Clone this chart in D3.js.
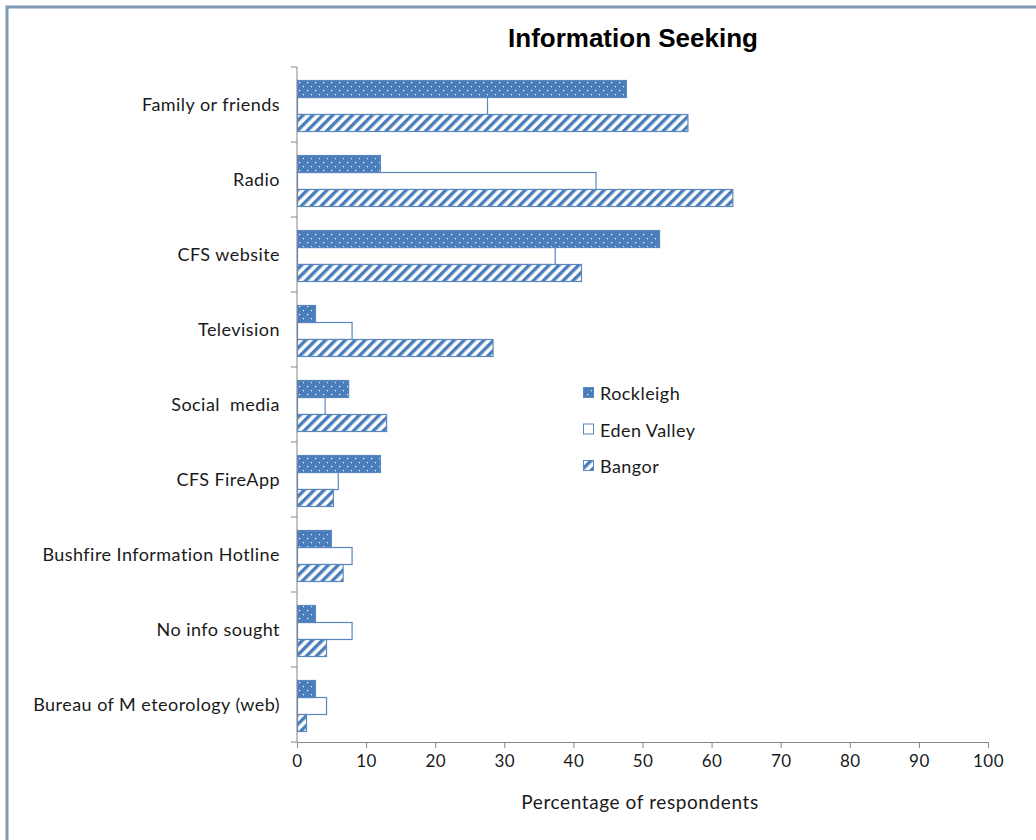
<!DOCTYPE html>
<html>
<head>
<meta charset="utf-8">
<script src="https://cdn.jsdelivr.net/npm/d3@7"></script>
<style>
  html, body { margin: 0; padding: 0; background: #fff; }
  svg { display: block; }
  .lbl { font-family: Lato, "Open Sans", sans-serif; fill: #1a1a1a; letter-spacing: 0.45px; white-space: pre; }
</style>
</head>
<body>
<svg id="chart" width="1036" height="840"></svg>
<script>
// Information sources used, by community (% of respondents)
const categories = [
  "Family or friends", "Radio", "CFS website", "Television", "Social  media",
  "CFS FireApp", "Bushfire Information Hotline", "No info sought", "Bureau of M eteorology (web)"
];
const seriesNames = ["Rockleigh", "Eden Valley", "Bangor"];
const rockleigh  = [47.6, 12.0, 52.4, 2.6, 7.4, 12.0, 4.9, 2.6, 2.6];
const edenValley = [27.5, 43.2, 37.3, 7.9, 4.0, 5.9, 7.9, 7.9, 4.2];
const bangor     = [56.5, 63.0, 41.1, 28.3, 12.9, 5.2, 6.6, 4.2, 1.3];
const xTicks = [0, 10, 20, 30, 40, 50, 60, 70, 80, 90, 100];

const values = [rockleigh, edenValley, bangor];
const blue = "#4a7ebb";
const edge = "#5b87bf";

const svg = d3.select("#chart");

// outer frame (top and left edges)
svg.append("path")
  .attr("d", "M7,840 V7 H1036")
  .attr("fill", "none").attr("stroke", "#7f9bb3").attr("stroke-width", 3);

// fill patterns
const defs = svg.append("defs");
const dots = defs.append("pattern").attr("id", "dots")
  .attr("patternUnits", "userSpaceOnUse").attr("width", 8).attr("height", 8);
dots.append("rect").attr("width", 8).attr("height", 8).attr("fill", blue);
dots.append("rect").attr("x", 3).attr("y", 2).attr("width", 1.2).attr("height", 1.2).attr("fill", "#fff");
dots.append("rect").attr("x", 7).attr("y", 6).attr("width", 1.2).attr("height", 1.2).attr("fill", "#fff");

const hatch = defs.append("pattern").attr("id", "hatch")
  .attr("patternUnits", "userSpaceOnUse").attr("width", 7).attr("height", 7)
  .attr("patternTransform", "rotate(45)");
hatch.append("rect").attr("width", 7).attr("height", 7).attr("fill", "#fff");
hatch.append("rect").attr("x", 0).attr("width", 3.4).attr("height", 7).attr("fill", blue);

const fills = ["url(#dots)", "#fff", "url(#hatch)"];

// scales
const x = d3.scaleLinear().domain([0, 100]).range([297, 988]);
const y = d3.scaleBand().domain(categories).range([67, 742]);
const ySub = d3.scaleBand().domain(seriesNames).range([13, 64]);

// bars, drawn middle series first so its outline sits beneath neighbours
const order = [1, 0, 2];
order.forEach(si => {
  svg.append("g").selectAll("rect")
    .data(categories.map((c, i) => ({ c, v: values[si][i] })))
    .join("rect")
    .attr("x", x(0) + 0.5)
    .attr("y", d => y(d.c) + ySub(seriesNames[si]) + 0.5)
    .attr("width", d => x(d.v) - x(0))
    .attr("height", ySub.bandwidth())
    .attr("fill", fills[si])
    .attr("stroke", edge)
    .attr("stroke-width", 1.2);
});

// y axis
const yAxis = svg.append("g").attr("transform", `translate(${x(0)},0)`);
yAxis.append("line").attr("x1", 0).attr("x2", 0).attr("y1", 67).attr("y2", 742)
  .attr("stroke", "#868686");
yAxis.selectAll(".yt").data(d3.range(categories.length + 1)).join("line")
  .attr("x1", -6).attr("x2", 0)
  .attr("y1", i => 67 + i * y.step()).attr("y2", i => 67 + i * y.step())
  .attr("stroke", "#868686");
svg.append("g").selectAll("text").data(categories).join("text")
  .attr("class", "lbl")
  .attr("x", 280).attr("y", d => y(d) + y.bandwidth() / 2 + 6)
  .attr("text-anchor", "end").attr("font-size", 18)
  .text(d => d);

// x axis
const xAxis = svg.append("g").attr("transform", "translate(0,742)")
  .call(d3.axisBottom(x).tickValues(xTicks).tickSize(6).tickPadding(7).tickFormat(d3.format("d")));
xAxis.select(".domain").attr("stroke", "#868686");
xAxis.selectAll(".tick line").attr("stroke", "#868686");
xAxis.selectAll(".tick text")
  .attr("class", "lbl").attr("font-size", 17).attr("fill", "#1a1a1a");

svg.append("text").attr("class", "lbl")
  .attr("x", 640).attr("y", 809).attr("text-anchor", "middle").attr("font-size", 19)
  .style("letter-spacing", "0.6px")
  .text("Percentage of respondents");

// title
svg.append("text")
  .attr("x", 633).attr("y", 47).attr("text-anchor", "middle")
  .attr("font-family", "'Liberation Sans Narrow', 'Arial Narrow', 'Liberation Sans', sans-serif")
  .attr("font-weight", "bold").attr("font-size", 26).attr("fill", "#000")
  .text("Information Seeking");

// legend
const legend = svg.append("g");
seriesNames.forEach((s, i) => {
  const ly = 394 + i * 36.5;
  legend.append("rect").attr("x", 583.5).attr("y", ly - 6.5).attr("width", 10).attr("height", 10)
    .attr("fill", fills[i]).attr("stroke", edge).attr("stroke-width", 1);
  legend.append("text").attr("class", "lbl")
    .attr("x", 600).attr("y", ly + 6).attr("font-size", 18).text(s);
});
</script>
</body>
</html>
